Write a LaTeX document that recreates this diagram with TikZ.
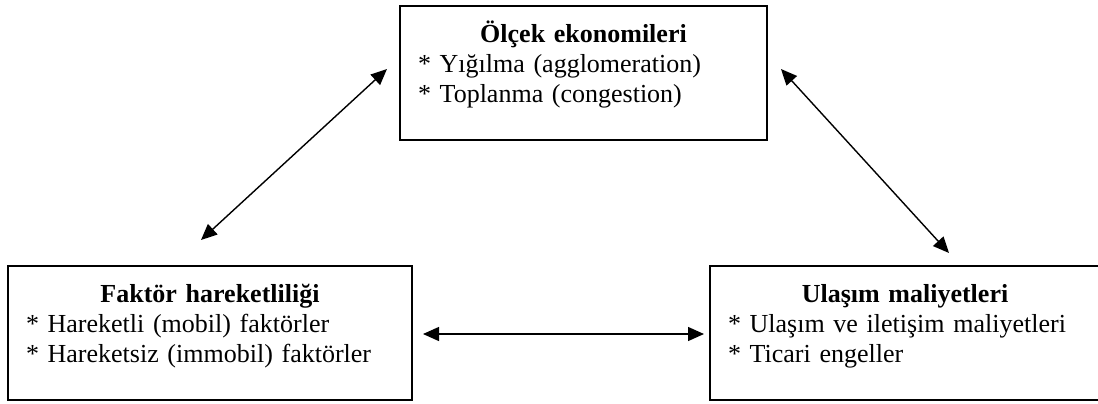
\documentclass[tikz,border=0pt]{standalone}
\usepackage{fontspec}
\setmainfont{Liberation Serif}
\usetikzlibrary{arrows.meta}
\tikzset{
	kutu/.style={draw, line width=0.9pt, inner xsep=9pt, inner ysep=0pt, align=left,
		minimum height=67pt, font=\fontsize{13}{15}\selectfont},
	ok/.style={{Triangle[length=8pt,width=7pt]}-{Triangle[length=8pt,width=7pt]}, line width=0.7pt}
}
\newcommand{\baslik}[1]{\rule{0pt}{12pt}\hfill\textbf{#1}\hfill\null}
\newcommand{\son}{\rule[-13pt]{0pt}{13pt}}
\begin{document}
\begin{tikzpicture}[x=0.5pt, y=-0.5pt]
	\useasboundingbox (0,0) rectangle (1098,403);
	% Boxes
	\node[kutu, text width=165.5pt] (olcek) at (583.5,73) {\baslik{Ölçek ekonomileri}\\
		{*} Yığılma (agglomeration)\\
		{*} Toplanma (congestion)\son};
	\node[kutu, text width=184pt] (faktor) at (210,333) {\baslik{Faktör hareketliliği}\\
		{*} Hareketli (mobil) faktörler\\
		{*} Hareketsiz (immobil) faktörler\son};
	\node[kutu, text width=177pt] (ulasim) at (905,333) {\baslik{Ulaşım maliyetleri}\\
		{*} Ulaşım ve iletişim maliyetleri\\
		{*} Ticari engeller\son};
	% Arrow ends
	\coordinate (olcekSol) at (387,69);
	\coordinate (faktorUst) at (201,240);
	\coordinate (olcekSag) at (781,69);
	\coordinate (ulasimUst) at (949,253);
	\coordinate (faktorSag) at (423,334);
	\coordinate (ulasimSol) at (704,334);
	% Arrows
	\draw[ok] (olcekSol) -- (faktorUst);
	\draw[ok] (olcekSag) -- (ulasimUst);
	\draw[ok] (faktorSag) -- (ulasimSol);
\end{tikzpicture}
\end{document}
